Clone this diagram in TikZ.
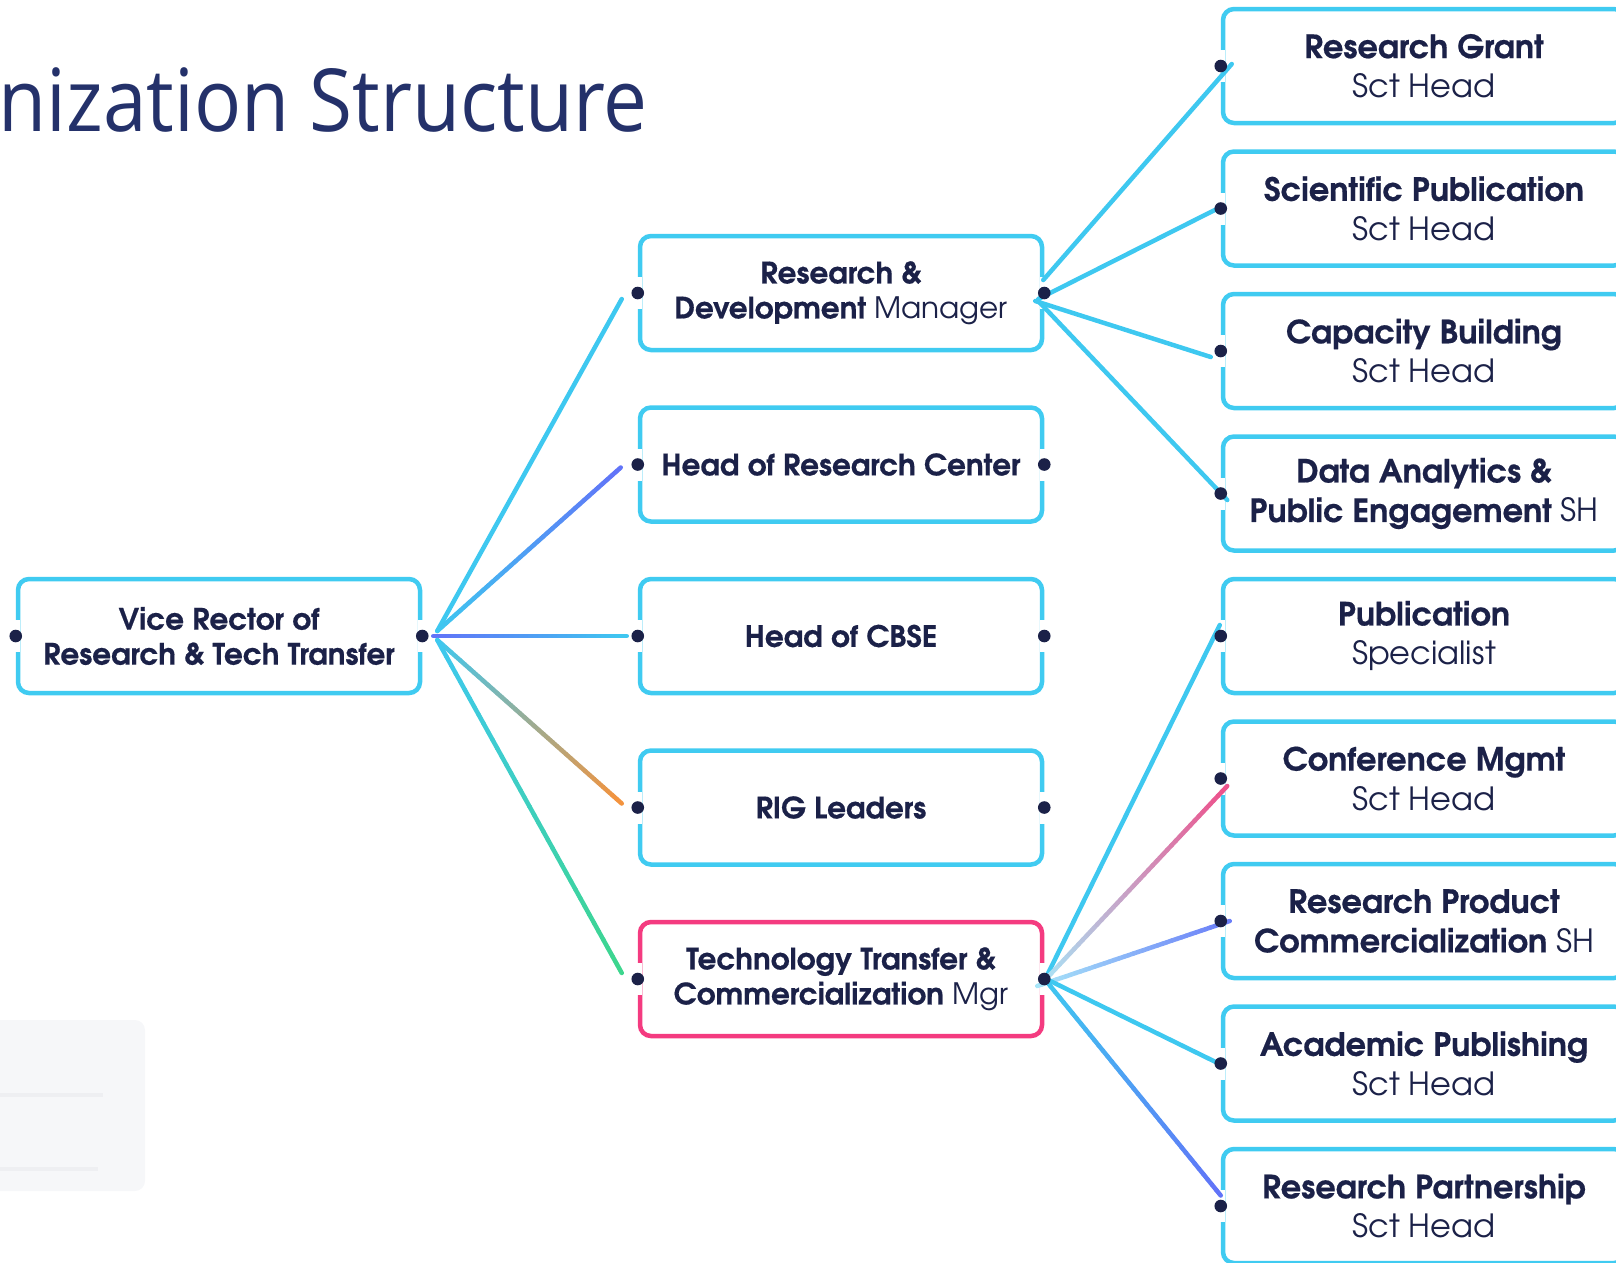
\documentclass[tikz,border=0pt]{standalone}
\usepackage{fontspec}
\usetikzlibrary{calc}
\setmainfont{texgyreadventor}[Extension=.otf, UprightFont=*-regular, BoldFont=*-bold, BoldFeatures={FakeBold=0.5}]
\newfontfamily\titlefont{Open Sans}
\definecolor{boxcyan}{HTML}{40CBF1}
\definecolor{boxpink}{HTML}{F43B80}
\definecolor{navy}{HTML}{1B2148}
\definecolor{titleblue}{HTML}{24316A}
\definecolor{lcyan}{HTML}{3EC8F0}
\definecolor{lviolet}{HTML}{6272F8}
\definecolor{lorange}{HTML}{F7923A}
\definecolor{lgreen}{HTML}{3DD68C}
\definecolor{lpink}{HTML}{EE4F8A}
\definecolor{lpale}{HTML}{A8E6F8}
\definecolor{lblue}{HTML}{6A7DF8}
\definecolor{panelgray}{HTML}{F6F7F9}
\definecolor{bargray}{HTML}{EEEFF2}
\tikzset{
  orgbox/.style={draw=boxcyan, line width=4.5pt, rounded corners=11pt,
    minimum width=402pt, minimum height=114pt, align=center,
    font=\fontsize{29.5}{35}\selectfont, text=navy, inner sep=0pt},
  bigbox/.style={orgbox, font=\fontsize{32}{39.5}\selectfont},
  conn/.style={line width=4.5pt, line cap=round},
}
\newcommand\gline[4]{%
  \foreach \i in {1,...,40}{%
    \pgfmathsetmacro\ta{(\i-1)/40}%
    \pgfmathsetmacro\tb{\i/40}%
    \pgfmathtruncatemacro\pc{100*(\i-0.5)/40}%
    \draw[conn, draw=#4!\pc!#3] ($(#1)!\ta!(#2)$) -- ($(#1)!\tb!(#2)$);
  }}
\begin{document}
\begin{tikzpicture}[x=1pt,y=-1pt]
\useasboundingbox (0,0) rectangle (1616,1262);
\clip (0,0) rectangle (1616,1262);
% title
\node[anchor=base east, inner sep=0pt, xscale=0.9, text=titleblue, font=\titlefont\fontsize{87}{100}\selectfont] (title) at (648,131) {Organization Structure};
% panel
\fill[panelgray, rounded corners=10pt] (-20,1020) rectangle (145,1191);
\fill[bargray] (-10,1093) rectangle (103,1097);
\fill[bargray] (-10,1167) rectangle (98,1171);
% boxes
\node[orgbox] (vr) at (219,636) {\textbf{Vice Rector of}\\\textbf{Research \& Tech Transfer}};
\node[orgbox] (rd) at (841,293) {\textbf{Research \&}\\\textbf{Development} Manager};
\node[orgbox] (hrc) at (841,464.5) {\textbf{Head of Research Center}};
\node[orgbox] (cbse) at (841,636) {\textbf{Head of CBSE}};
\node[orgbox] (rig) at (841,807.5) {\textbf{RIG Leaders}};
\node[orgbox, draw=boxpink] (ttc) at (841,979) {\textbf{Technology Transfer \&}\\\textbf{Commercialization} Mgr};
\node[bigbox] (rg) at (1424,66) {\textbf{Research Grant}\\Sct Head};
\node[bigbox] (sp) at (1424,208.5) {\textbf{Scientific Publication}\\Sct Head};
\node[bigbox] (cb) at (1424,351) {\textbf{Capacity Building}\\Sct Head};
\node[bigbox] (da) at (1424,493.5) {\textbf{Data Analytics \&}\\\textbf{Public Engagement} SH};
\node[bigbox] (ps) at (1424,636) {\textbf{Publication}\\Specialist};
\node[bigbox] (cm) at (1424,778.5) {\textbf{Conference Mgmt}\\Sct Head};
\node[bigbox] (rp) at (1424,921) {\textbf{Research Product}\\\textbf{Commercialization} SH};
\node[bigbox] (ap) at (1424,1063.5) {\textbf{Academic Publishing}\\Sct Head};
\node[bigbox] (rpt) at (1424,1206) {\textbf{Research Partnership}\\Sct Head};
% gaps in borders
\foreach \n in {vr,rd,hrc,cbse,rig,ttc,rg,sp,cb,da,ps,cm,rp,ap,rpt}{
  \fill[white] ($(\n.west)+(-4,-16)$) rectangle ($(\n.west)+(4,16)$);
  \fill[white] ($(\n.east)+(-4,-16)$) rectangle ($(\n.east)+(4,16)$);
}
% connectors level 1
\coordinate (vrU) at ($(vr.east)+(15,-5)$);
\coordinate (vrM) at ($(vr.east)+(11,0)$);
\coordinate (vrD) at ($(vr.east)+(15,4)$);
\coordinate (eRD) at ($(rd.west)+(-16,6)$);
\coordinate (eHRC) at ($(hrc.west)+(-17,3)$);
\coordinate (eCBSE) at ($(cbse.west)+(-11,0)$);
\coordinate (eRIG) at ($(rig.west)+(-16,-4)$);
\coordinate (eTTC) at ($(ttc.west)+(-16,-6)$);
\draw[conn, lcyan] (vrU) -- (eRD);
\gline{vrU}{eHRC}{lcyan}{lviolet}
\gline{vrM}{eCBSE}{lviolet}{lcyan}
\gline{vrD}{eRIG}{lcyan}{lorange}
\gline{vrD}{eTTC}{lcyan}{lgreen}
% connectors from R&D
\coordinate (s1) at ($(rd.east)+(-1,-13)$);
\coordinate (s2) at ($(rd.east)+(-6,6)$);
\coordinate (s3) at ($(rd.east)+(-9,8)$);
\coordinate (s4) at ($(rd.east)+(-6,8)$);
\coordinate (e1) at ($(rg.west)+(11,-2)$);
\coordinate (e2) at ($(sp.west)+(-4,0.5)$);
\coordinate (e3) at ($(cb.west)+(-10,6)$);
\coordinate (e4) at ($(da.west)+(6.5,6.5)$);
\draw[conn, lcyan] (s1) -- (e1);
\draw[conn, lcyan] (s2) -- (e2);
\draw[conn, lcyan] (s3) -- (e3);
\draw[conn, lcyan] (s4) -- (e4);
% connectors from TTC
\coordinate (t1) at ($(ttc.east)+(2,-2)$);
\coordinate (t2) at ($(ttc.east)+(-3,5)$);
\coordinate (t3) at ($(ttc.east)+(-7,7)$);
\coordinate (t4) at ($(ttc.east)+(2,0)$);
\coordinate (t5) at ($(ttc.east)+(2,2)$);
\coordinate (f1) at ($(ps.west)+(-1,-11)$);
\coordinate (f2) at ($(cm.west)+(6.5,7.5)$);
\coordinate (f3) at ($(rp.west)+(9,0)$);
\coordinate (f4) at ($(ap.west)+(-2,0)$);
\coordinate (f5) at ($(rpt.west)+(0,-10.5)$);
\draw[conn, lcyan] (t1) -- (f1);
\gline{t2}{f2}{lpale}{lpink}
\gline{t3}{f3}{lpale}{lblue}
\draw[conn, lcyan] (t4) -- (f4);
\gline{t5}{f5}{lcyan}{lviolet}
% dots
\foreach \n in {vr,rd,hrc,cbse,rig,ttc,rg,sp,cb,da,ps,cm,rp,ap,rpt}{
  \fill[navy] (\n.west) circle (6.3);
  \fill[navy] (\n.east) circle (6.3);
}
\end{tikzpicture}
\end{document}
